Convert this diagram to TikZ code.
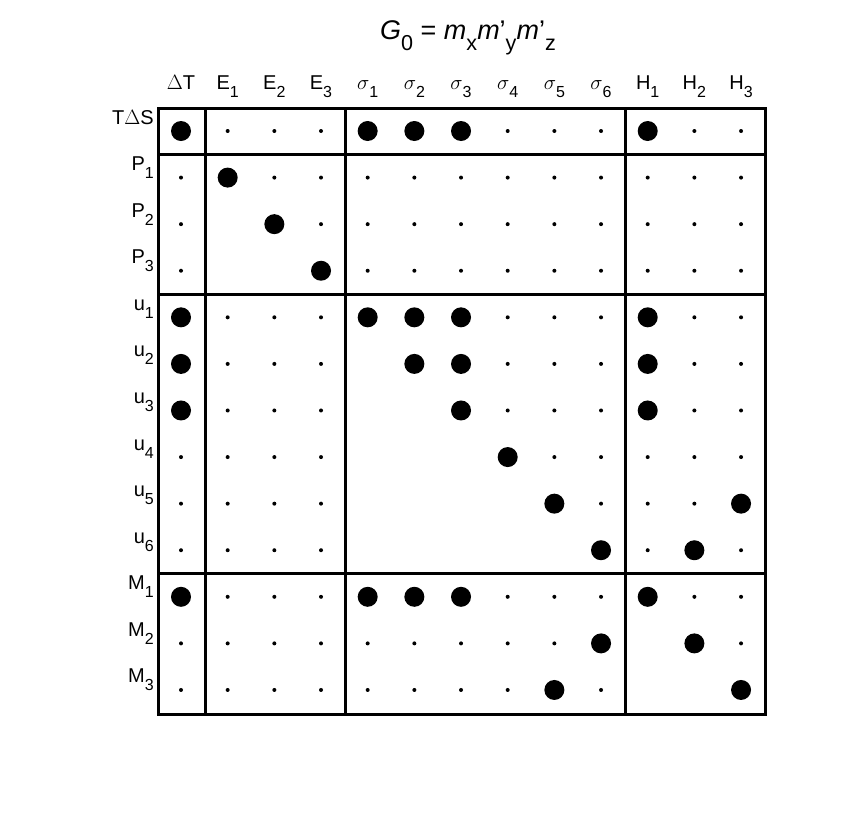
\documentclass[tikz,border=0pt]{standalone}
\usepackage{fontspec}
\setmainfont{Liberation Sans}
\newcommand{\mysub}[1]{\raisebox{-0.4em}{\fontsize{0.8\dimexpr\fontdimen6\font\relax}{1em}\selectfont #1}}
\begin{document}
\begin{tikzpicture}[x=1pt,y=-1pt,
  big/.style={circle,fill=black,inner sep=0pt,minimum size=20pt},
  sm/.style={circle,fill=black,inner sep=0pt,minimum size=4pt},
  lab/.style={font=\fontsize{20}{22}\selectfont,inner sep=0pt},
  frame/.style={line width=3pt}]
\useasboundingbox (0,0) rectangle (856,812);
\node[lab,font=\fontsize{27}{30}\selectfont] (title) at (468,38) {\textit{G}\mysub{0} = \textit{m}\mysub{x}\textit{m}'\mysub{y}\textit{m}'\mysub{z}};
% column headers
\foreach \t [count=\i from 0] in {$\Delta$T,E\mysub{1},E\mysub{2},E\mysub{3},$\sigma$\mysub{1},$\sigma$\mysub{2},$\sigma$\mysub{3},$\sigma$\mysub{4},$\sigma$\mysub{5},$\sigma$\mysub{6},H\mysub{1},H\mysub{2},H\mysub{3}}
  \node[lab,anchor=base] (c\i) at ({181+46.67*\i},89) {\t};
\foreach \t [count=\j from 0] in {T$\Delta$S,P\mysub{1},P\mysub{2},P\mysub{3},u\mysub{1},u\mysub{2},u\mysub{3},u\mysub{4},u\mysub{5},u\mysub{6},M\mysub{1},M\mysub{2},M\mysub{3}}
  \node[lab,anchor=base east] (r\j) at (154,{131+46.58*\j-7}) {\t};
% matrix: B big, s small, 0 empty
\foreach \row [count=\j from 0] in {
 {B,s,s,s,B,B,B,s,s,s,B,s,s},
 {s,B,s,s,s,s,s,s,s,s,s,s,s},
 {s,0,B,s,s,s,s,s,s,s,s,s,s},
 {s,0,0,B,s,s,s,s,s,s,s,s,s},
 {B,s,s,s,B,B,B,s,s,s,B,s,s},
 {B,s,s,s,0,B,B,s,s,s,B,s,s},
 {B,s,s,s,0,0,B,s,s,s,B,s,s},
 {s,s,s,s,0,0,0,B,s,s,s,s,s},
 {s,s,s,s,0,0,0,0,B,s,s,s,B},
 {s,s,s,s,0,0,0,0,0,B,s,B,s},
 {B,s,s,s,B,B,B,s,s,s,B,s,s},
 {s,s,s,s,s,s,s,s,s,B,0,B,s},
 {s,s,s,s,s,s,s,s,B,s,0,0,B}}{
  \foreach \v [count=\i from 0] in \row {
    \if\v B\node[big] (d\i-\j) at ({181+46.67*\i},{131+46.58*\j}) {};\fi
    \if\v s\node[sm] (d\i-\j) at ({181+46.67*\i},{131+46.58*\j}) {};\fi
  }}
\draw[frame] (158,108) rectangle (765,714);
\draw[frame] (205,108) -- (205,714);
\draw[frame] (345,108) -- (345,714);
\draw[frame] (625,108) -- (625,714);
\draw[frame] (158,154) -- (765,154);
\draw[frame] (158,294) -- (765,294);
\draw[frame] (158,573) -- (765,573);
\end{tikzpicture}
\end{document}
